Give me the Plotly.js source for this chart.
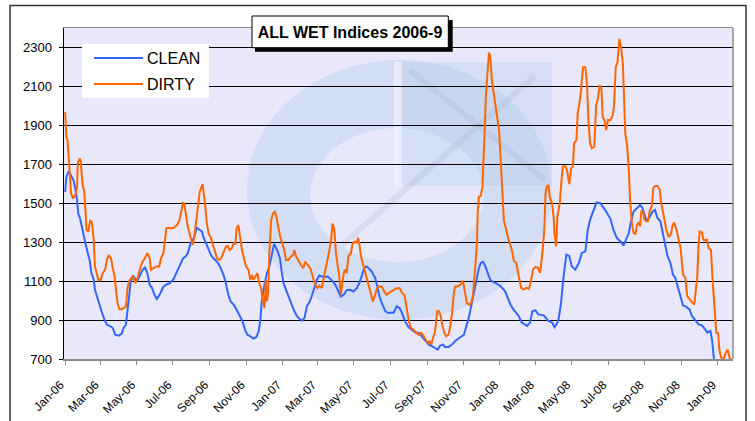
<!DOCTYPE html>
<html>
<head>
<meta charset="utf-8">
<script src="https://cdn.plot.ly/plotly-3.0.1.min.js"></script>
<style>html,body{margin:0;padding:0;background:#fff;}#chart{width:755px;height:421px;}</style>
</head>
<body>
<div id="chart"></div>
<script>
// ---- DATA (days since 2006-01-01, index value) ----
const startDate = '2006-01-01';
const cleanDay = [0,2,6,10,14,17,20,22,25,28,31,34,38,41,44,48,50,54,58,62,66,70,76,80,84,90,95,98,102,105,108,110,114,118,122,126,130,134,138,142,146,150,154,160,165,171,176,182,188,193,198,202,206,210,213,217,221,226,230,232,237,241,245,249,255,260,266,270,274,278,283,288,294,298,302,306,311,316,321,325,328,330,334,339,343,347,351,356,361,364,367,371,375,379,384,388,392,398,402,406,411,414,418,423,427,431,437,442,448,454,459,463,468,473,479,484,490,494,498,502,506,510,515,521,525,528,532,538,543,546,552,557,562,566,571,577,583,588,594,599,605,611,616,622,626,630,635,638,644,650,655,661,667,670,674,678,682,686,689,692,695,698,702,706,710,714,720,725,731,739,748,753,762,767,776,781,785,790,795,804,812,818,822,826,829,833,837,842,847,851,857,863,868,874,878,882,887,893,899,907,916,921,927,933,938,943,947,950,955,961,966,970,975,978,983,987,991,995,1000,1004,1008,1012,1017,1021,1025,1029,1033,1038,1043,1049,1053,1059,1064,1070,1075,1079,1084,1087,1090,1098,1106,1114,1122];
const cleanValue = [1558,1635,1664,1644,1618,1575,1516,1447,1422,1379,1328,1294,1243,1209,1141,1107,1055,1013,970,936,902,876,868,859,825,820,830,859,876,945,1038,1098,1129,1110,1107,1132,1158,1170,1141,1081,1064,1030,1008,1038,1072,1084,1090,1110,1150,1175,1217,1226,1243,1286,1303,1328,1374,1362,1354,1328,1294,1260,1234,1217,1200,1175,1132,1089,1030,996,979,953,919,893,851,825,817,805,812,842,902,987,1072,1141,1175,1243,1291,1260,1215,1141,1089,1055,1021,987,953,927,910,897,910,970,996,1021,1064,1107,1129,1124,1124,1121,1104,1081,1047,1021,1030,1053,1055,1047,1064,1089,1124,1166,1175,1166,1149,1115,1064,1021,987,945,936,936,939,970,962,936,893,863,851,837,834,817,791,774,766,757,748,769,774,762,762,774,791,805,817,825,868,910,970,1030,1072,1132,1166,1192,1200,1175,1141,1107,1093,1087,1075,1049,980,955,921,887,870,887,946,950,929,924,895,887,864,880,905,985,1115,1236,1228,1176,1159,1193,1245,1253,1364,1415,1458,1504,1500,1466,1420,1364,1321,1304,1282,1321,1347,1398,1458,1475,1492,1475,1424,1407,1432,1458,1466,1424,1407,1347,1279,1228,1193,1134,1117,1074,1040,975,969,955,921,895,878,873,852,835,844,793,699,640,610,600,590];
const dirtyDay = [0,1,2,4,6,7,10,13,17,20,21,24,26,29,32,34,36,39,42,45,48,50,53,56,60,63,67,70,73,77,80,83,86,88,91,95,99,102,105,108,111,114,118,122,126,130,134,138,142,144,148,153,158,161,165,168,170,174,178,182,188,192,195,198,200,203,206,209,212,214,217,220,223,226,228,231,232,235,238,241,244,248,251,255,259,262,266,270,273,276,280,283,286,288,291,294,297,301,304,308,311,314,316,319,323,326,329,332,335,337,339,341,343,346,349,352,355,358,361,368,371,375,379,383,385,388,392,396,400,403,407,412,416,420,424,427,431,434,437,441,444,447,449,452,455,458,460,463,465,468,470,473,476,480,483,487,490,492,494,497,500,503,507,510,514,517,520,524,527,532,536,540,545,552,557,562,566,570,573,577,581,585,590,594,598,601,604,607,609,612,615,618,621,623,625,628,631,634,637,640,644,647,650,653,655,659,664,667,669,672,675,679,682,685,687,689,692,693,695,698,701,703,705,707,710,712,714,717,721,725,729,732,734,737,739,742,745,747,751,754,758,762,766,770,775,779,782,786,790,794,798,802,805,807,809,812,814,818,821,822,825,827,831,833,836,840,843,847,850,853,855,859,861,864,867,870,874,877,879,882,885,889,892,895,898,901,903,906,909,912,916,920,922,925,928,931,934,937,939,941,944,947,949,952,955,958,961,963,966,968,971,973,976,979,982,986,988,991,995,999,1001,1004,1007,1010,1014,1018,1020,1023,1027,1030,1034,1038,1042,1045,1049,1053,1057,1060,1062,1064,1066,1070,1072,1075,1078,1081,1085,1088,1091,1094,1097,1099,1102,1106,1110,1113,1116,1118,1122];
const dirtyValue = [1968,1891,1840,1823,1737,1652,1550,1524,1541,1584,1703,1729,1720,1601,1558,1465,1362,1354,1413,1400,1311,1175,1141,1103,1107,1141,1158,1209,1234,1217,1166,1124,1038,987,956,956,962,970,1072,1103,1115,1124,1089,1121,1166,1200,1217,1243,1217,1158,1166,1175,1175,1217,1243,1311,1371,1374,1371,1374,1388,1413,1465,1502,1498,1430,1379,1345,1311,1286,1328,1413,1498,1558,1575,1598,1567,1498,1396,1345,1328,1294,1260,1217,1209,1217,1251,1277,1280,1260,1268,1294,1291,1371,1388,1328,1260,1209,1175,1158,1107,1132,1107,1121,1141,1089,1064,1004,962,1107,996,1038,1243,1413,1447,1456,1430,1379,1330,1260,1209,1209,1226,1234,1260,1226,1200,1183,1166,1200,1183,1166,1124,1081,1064,1076,1064,1107,1158,1217,1260,1320,1396,1371,1243,1175,1141,1030,1089,1141,1158,1141,1229,1243,1294,1303,1294,1323,1294,1226,1192,1158,1107,1072,1038,996,1021,1064,1072,1072,1047,1030,1042,1055,1064,1064,1038,1030,970,902,859,851,834,825,834,825,808,791,783,791,774,808,834,885,945,945,919,868,834,817,825,868,936,1038,1072,1072,1081,1098,1089,1038,987,979,987,1021,1089,1175,1311,1447,1533,1536,1584,1703,1891,2061,2215,2274,2257,2130,2044,1959,1874,1703,1550,1413,1388,1340,1311,1295,1253,1202,1193,1125,1066,1057,1066,1060,1091,1159,1173,1168,1142,1253,1364,1551,1586,1594,1534,1500,1415,1347,1279,1432,1500,1586,1688,1691,1671,1598,1679,1688,1807,1824,1961,2012,2089,2199,2199,2097,1927,1807,1782,1790,2003,2037,2106,2089,1944,1927,1876,1927,1927,1952,1995,2199,2225,2344,2302,2216,2063,1858,1799,1671,1517,1398,1347,1343,1390,1401,1381,1458,1453,1419,1407,1407,1458,1492,1577,1589,1589,1569,1509,1458,1398,1364,1326,1343,1381,1401,1364,1321,1270,1134,1117,1023,1006,992,980,1057,1125,1279,1355,1350,1313,1309,1313,1270,1258,1091,938,835,832,750,708,699,733,747,708,699,690];
const seriesNames = ['CLEAN', 'DIRTY'];
const seriesColors = ['#3366FF', '#FF6600'];
const chartTitle = 'ALL WET Indices 2006-9';

// ---- helpers ----
function toDate(d) {
  const base = Date.UTC(2006, 0, 1);
  return new Date(base + d * 86400000).toISOString().slice(0, 10);
}
const L = 64, R = 733, T = 28, B = 359;
const px = x => (x - L) / (R - L);
const py = y => (B - y) / (B - T);
const FONT = 'Liberation Sans, Arial, sans-serif';

const traces = [
  { x: cleanDay.map(toDate), y: cleanValue, name: seriesNames[0], type: 'scatter', mode: 'lines',
    line: { color: seriesColors[0], width: 2 }, showlegend: false },
  { x: dirtyDay.map(toDate), y: dirtyValue, name: seriesNames[1], type: 'scatter', mode: 'lines',
    line: { color: seriesColors[1], width: 2 }, showlegend: false }
];

const wm = { xref: 'paper', yref: 'paper', layer: 'below' };
const shapes = [
  // watermark logo (faint)
  Object.assign({ type: 'circle', x0: px(247), x1: px(552), y0: py(320), y1: py(60),
    fillcolor: '#A9C8E6', opacity: 0.32, line: { width: 0 } }, wm),
  Object.assign({ type: 'circle', x0: px(310), x1: px(484), y0: py(262), y1: py(128),
    fillcolor: '#EAEAFA', opacity: 0.85, line: { width: 0 } }, wm),
  Object.assign({ type: 'rect', x0: px(398), x1: px(552), y0: py(186), y1: py(62),
    fillcolor: '#B9D0EA', opacity: 0.4, line: { width: 0 } }, wm),
  Object.assign({ type: 'rect', x0: px(394), x1: px(402), y0: py(186), y1: py(62),
    fillcolor: '#F2F2FC', opacity: 0.7, line: { width: 0 } }, wm),
  Object.assign({ type: 'line', x0: px(410), x1: px(545), y0: py(70), y1: py(180),
    line: { color: '#9AAAC4', width: 6 }, opacity: 0.2 }, wm),
  Object.assign({ type: 'line', x0: px(342), x1: px(535), y0: py(245), y1: py(76),
    line: { color: '#9AAAC4', width: 6 }, opacity: 0.2 }, wm),
  // plot area right border
  { type: 'line', xref: 'paper', yref: 'paper', x0: 1, x1: 1, y0: 0, y1: 1,
    line: { color: '#8C8C8C', width: 1.5 }, layer: 'above' },
  // outer frame
  { type: 'rect', xref: 'paper', yref: 'paper', x0: px(10), x1: px(746), y0: py(440), y1: py(5.5),
    line: { color: '#333333', width: 1.5 }, layer: 'above' },
  // title shadow + box
  { type: 'rect', xref: 'paper', yref: 'paper', x0: px(255), x1: px(452.7), y0: py(51.7), y1: py(20),
    fillcolor: '#000000', line: { width: 0 }, layer: 'above' },
  { type: 'rect', xref: 'paper', yref: 'paper', x0: px(252), x1: px(448.3), y0: py(47.7), y1: py(16),
    fillcolor: '#FFFFFF', line: { color: '#000000', width: 1 }, layer: 'above' },
  // legend box
  { type: 'rect', xref: 'paper', yref: 'paper', x0: px(82), x1: px(209), y0: py(98), y1: py(44),
    fillcolor: '#FFFFFF', line: { width: 0 }, layer: 'above' }
];
const annotations = [];
const legendRows = [58, 84];
seriesNames.forEach((nm, i) => {
  shapes.push({ type: 'line', xref: 'paper', yref: 'paper', x0: px(94), x1: px(143),
    y0: py(legendRows[i]), y1: py(legendRows[i]), line: { color: seriesColors[i], width: 2 }, layer: 'above' });
  annotations.push({ xref: 'paper', yref: 'paper', x: px(145), y: py(legendRows[i]), text: nm,
    showarrow: false, xanchor: 'left', yanchor: 'middle',
    font: { family: FONT, size: 16, color: '#000000' } });
});

const layout = {
  width: 755, height: 421,
  margin: { l: L, r: 755 - R, t: T, b: 421 - B, pad: 0 },
  paper_bgcolor: '#FFFFFF',
  plot_bgcolor: '#E8E8FA',
  font: { family: FONT, color: '#000000' },
  title: { text: '<b>' + chartTitle + '</b>', font: { family: FONT, size: 16, color: '#000000' },
    x: 350 / 755, xanchor: 'center', y: 1 - 32 / 421, yanchor: 'middle' },
  showlegend: false,
  xaxis: {
    type: 'date', range: ['2005-12-30', '2009-01-27'],
    tick0: '2006-01-01', dtick: 'M2', tickformat: '%b-%y\u00a0\u00a0', tickangle: -45,
    ticks: 'outside', ticklen: 4, tickcolor: '#8C8C8C', tickwidth: 1,
    showline: true, linecolor: '#8C8C8C', linewidth: 1.5, mirror: true,
    showgrid: false, zeroline: false,
    tickfont: { family: FONT, size: 12, color: '#000000' },
    ticklabelstandoff: 4
  },
  yaxis: {
    range: [700, 2400], tick0: 700, dtick: 200,
    ticks: 'outside', ticklen: 4, tickcolor: '#000000',
    showline: true, linecolor: '#000000', linewidth: 1.5,
    showgrid: true, gridcolor: '#000000', gridwidth: 1, zeroline: false,
    tickfont: { family: FONT, size: 13, color: '#000000' },
    ticklabelstandoff: 4
  },
  shapes: shapes,
  annotations: annotations
};

Plotly.newPlot('chart', traces, layout, { staticPlot: true, displayModeBar: false });
</script>
</body>
</html>
